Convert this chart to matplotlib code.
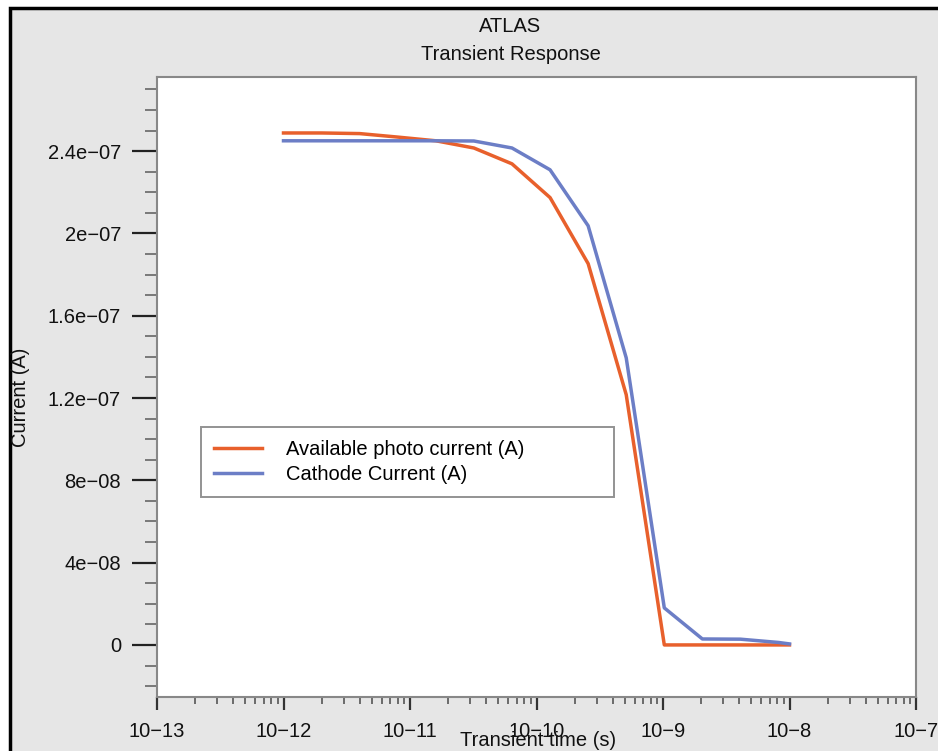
import numpy as np
import matplotlib.pyplot as plt
from matplotlib.patches import Rectangle
from matplotlib.ticker import FixedLocator, FixedFormatter

plt.rcParams["font.family"] = ["Liberation Sans", "DejaVu Sans"]

# transient time samples (s)
time = [1e-12, 2e-12, 4e-12, 8e-12, 1.6e-11, 3.2e-11, 6.4e-11, 1.28e-10,
        2.56e-10, 5.12e-10, 1.024e-9, 2.048e-9, 4.096e-9, 8.192e-9, 1e-8]
photo_current = [2.488e-7, 2.488e-7, 2.485e-7, 2.468e-7, 2.45e-7, 2.415e-7, 2.338e-7,
                 2.174e-7, 1.853e-7, 1.216e-7, 0.0, 0.0, 0.0, 0.0, 0.0]
cathode_current = [2.45e-7, 2.45e-7, 2.45e-7, 2.45e-7, 2.45e-7, 2.449e-7, 2.415e-7,
                   2.309e-7, 2.037e-7, 1.395e-7, 1.8e-8, 2.9e-9, 2.8e-9, 1.2e-9, 5e-10]

x_ticks = [1e-13, 1e-12, 1e-11, 1e-10, 1e-9, 1e-8, 1e-7]
x_labels = ["10\u221213", "10\u221212", "10\u221211", "10\u221210", "10\u22129", "10\u22128", "10\u22127"]
y_ticks = [0, 4e-8, 8e-8, 1.2e-7, 1.6e-7, 2e-7, 2.4e-7]
y_labels = ["0", "4e\u221208", "8e\u221208", "1.2e\u221207", "1.6e\u221207", "2e\u221207", "2.4e\u221207"]

FS = 14.5
W, H = 938, 751
fig = plt.figure(figsize=(W / 100, H / 100), dpi=100, facecolor="white")
fig.patches.append(Rectangle((10 / W, -0.1), 1.2, (H - 8) / H + 0.1, transform=fig.transFigure,
                             facecolor="#e6e6e6", edgecolor="black", lw=2.5, zorder=-10))

ax = fig.add_axes([157 / W, (H - 697) / H, (916 - 157) / W, (697 - 77) / H])
ax.set_facecolor("white")

ax.plot(time, photo_current, color="#e8602c", lw=2.5, label="Available photo current (A)")
ax.plot(time, cathode_current, color="#6c7ec6", lw=2.5, label="Cathode Current (A)")

ax.set_xscale("log")
ax.set_xlim(1e-13, 1e-7)
ax.set_ylim(-2.53e-8, 2.76e-7)

ax.xaxis.set_major_locator(FixedLocator(x_ticks))
ax.xaxis.set_major_formatter(FixedFormatter(x_labels))
minors = [m * 10.0 ** e for e in range(-13, -7) for m in range(2, 10)]
ax.xaxis.set_minor_locator(FixedLocator(minors))
ax.xaxis.set_minor_formatter(FixedFormatter([""] * len(minors)))

ax.yaxis.set_major_locator(FixedLocator(y_ticks))
ax.yaxis.set_major_formatter(FixedFormatter(y_labels))
ax.yaxis.set_minor_locator(FixedLocator([k * 1e-8 for k in range(-2, 28) if k % 4 != 0]))

ax.tick_params(axis="x", which="major", direction="out", length=9, width=1.6, color="#333333",
               labelsize=FS, pad=9, labelcolor="#111111")
ax.tick_params(axis="x", which="minor", direction="out", length=5, width=1.2, color="#555555")
ax.tick_params(axis="y", which="major", direction="out", length=18, width=1.6, color="#222222",
               labelsize=FS, pad=8, labelcolor="#111111")
ax.tick_params(axis="y", which="minor", direction="out", length=9, width=1.2, color="#666666")

for s in ax.spines.values():
    s.set_color("#888888")
    s.set_linewidth(1.5)

ax.set_xlabel("Transient time (s)", fontsize=FS, color="#111111")
ax.xaxis.set_label_coords((538 - 157) / 759, (697 - 741) / 620)
ax.xaxis.label.set_va("center")
ax.set_ylabel("Current (A)", fontsize=FS, color="#111111")
ax.yaxis.set_label_coords((21 - 157) / 759, (697 - 397) / 620)
ax.yaxis.label.set_va("center")

fig.text(510 / W, 1 - 26 / H, "ATLAS", ha="center", va="center", fontsize=FS, color="#111111")
fig.text(511 / W, 1 - 55 / H, "Transient Response", ha="center", va="center", fontsize=FS,
         color="#111111")

leg = ax.legend(loc="upper left", bbox_to_anchor=((200.7 - 157) / 759, 0.2, (614 - 200.7) / 759,
                                                  (697 - 427) / 620 - 0.2),
                mode="expand", fontsize=FS, frameon=True, fancybox=False, handlelength=2.4,
                handletextpad=1.2, labelspacing=0.3, borderpad=0.65, borderaxespad=0)
leg.get_frame().set_edgecolor("#777777")
leg.get_frame().set_linewidth(1.4)

fig.savefig("out.png", dpi=100, facecolor=fig.get_facecolor())
